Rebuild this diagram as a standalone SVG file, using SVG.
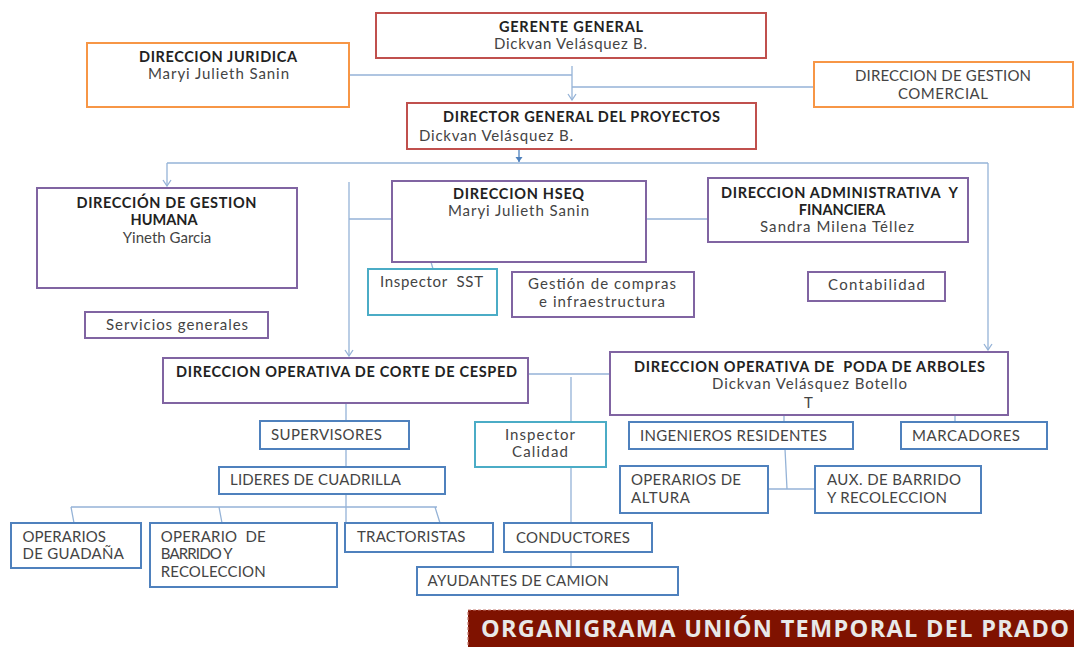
<svg xmlns="http://www.w3.org/2000/svg" width="1074" height="647" viewBox="0 0 1074 647">
<defs>
<style>
.b{fill:#fff;stroke-width:2}
.red{stroke:#C0504D}.org{stroke:#F79646}.pur{stroke:#8064A2}.blu{stroke:#4F81BD}.cya{stroke:#4BACC6}
text{font-family:Lato,"Open Sans","Liberation Sans",sans-serif;font-size:15px;fill:#444;white-space:pre}
.h{font-weight:bold;fill:#222;font-size:14.5px}
.c{fill:none;stroke:#95B3D7;stroke-width:1.3}
</style>
<marker id="oa" viewBox="-7 -5 8 10" refX="0" refY="0" markerWidth="8" markerHeight="10" markerUnits="userSpaceOnUse" orient="auto">
<path d="M-6,-4 L0,0 L-6,4" fill="none" stroke="#95B3D7" stroke-width="1.3"/>
</marker>
<marker id="fa" viewBox="-6 -4 7 8" refX="0" refY="0" markerWidth="7" markerHeight="8" markerUnits="userSpaceOnUse" orient="auto">
<path d="M-5,-3.5 L0,0 L-5,3.5 Z" fill="#4F81BD"/>
</marker>
</defs>
<rect width="1074" height="647" fill="#fff"/>
<g id="connectors">
<path class="c" d="M349,75 H572 M813,87 H572"/>
<path class="c" d="M572,66 V100" marker-end="url(#oa)"/>
<path d="M519,149 V162" stroke="#4F81BD" stroke-width="1.3" marker-end="url(#fa)"/>
<path class="c" d="M167,163 H988"/>
<path class="c" d="M167,163 V186" marker-end="url(#oa)"/>
<path class="c" d="M988,163 V350" marker-end="url(#oa)"/>
<path class="c" d="M349,182 V356" marker-end="url(#oa)"/>
<path class="c" d="M349,219 H392 M646,219 H708 M431,262 L433,269"/>
<path class="c" d="M528,374 H610 M571,377 V422 M571,467 V523 M571,552 V567"/>
<path class="c" d="M346,403 V421 M346,449 V467 M346,494 V523"/>
<path class="c" d="M71,507 H437 M71,507 L74,523 M219,507 L222,523 M435,507 L440,523"/>
<path class="c" d="M784,415 V422 M955,403 V422 M785,449 L787,489 M768,489 H815"/>
</g>
<g id="gerente"><rect class="b red" x="376" y="13" width="390" height="45"/>
<text class="h" x="499" y="32" textLength="144">GERENTE GENERAL</text>
<text x="494" y="49" textLength="153">Dickvan Velásquez B.</text></g>
<g id="juridica"><rect class="b org" x="87" y="43" width="262" height="64"/>
<text class="h" x="139" y="62" textLength="158">DIRECCION JURIDICA</text>
<text x="148" y="79" textLength="141">Maryi Julieth Sanin</text></g>
<g id="comercial"><rect class="b org" x="814" y="62" width="259" height="45"/>
<text x="855" y="81" textLength="176">DIRECCION DE GESTION</text>
<text x="898" y="99" textLength="90">COMERCIAL</text></g>
<g id="director"><rect class="b red" x="407" y="103" width="349" height="46"/>
<text class="h" x="443" y="122" textLength="277">DIRECTOR GENERAL DEL PROYECTOS</text>
<text x="419" y="141" textLength="154">Dickvan Velásquez B.</text></g>
<g id="humana"><rect class="b pur" x="37" y="188" width="260" height="100"/>
<text class="h" x="76.5" y="208" textLength="180">DIRECCIÓN DE GESTION</text>
<text class="h" x="164" y="225" text-anchor="middle">HUMANA</text>
<text x="167" y="243" text-anchor="middle">Yineth Garcia</text></g>
<g id="servicios"><rect class="b pur" x="85" y="312" width="183" height="26"/>
<text x="106" y="330" textLength="142">Servicios generales</text></g>
<g id="hseq"><rect class="b pur" x="392" y="181" width="254" height="81"/>
<text class="h" x="453" y="199" textLength="131">DIRECCION HSEQ</text>
<text x="448" y="216" textLength="141">Maryi Julieth Sanin</text></g>
<g id="sst"><rect class="b cya" x="368" y="269" width="129" height="46"/>
<text x="380" y="287" textLength="103">Inspector  SST</text></g>
<g id="compras"><rect class="b pur" x="512" y="272" width="182" height="45"/>
<text x="528" y="289" textLength="148">Gestión de compras</text>
<text x="539" y="307" textLength="126">e infraestructura</text></g>
<g id="admin"><rect class="b pur" x="708" y="178" width="260" height="64"/>
<text class="h" x="721" y="198" textLength="237">DIRECCION ADMINISTRATIVA  Y</text>
<text class="h" x="842" y="215" text-anchor="middle">FINANCIERA</text>
<text x="760" y="232" textLength="154">Sandra Milena Téllez</text></g>
<g id="contabilidad"><rect class="b pur" x="808" y="272" width="137" height="29"/>
<text x="828" y="290" textLength="97">Contabilidad</text></g>
<g id="corte"><rect class="b pur" x="163" y="358" width="365" height="45"/>
<text class="h" x="176" y="377" textLength="341">DIRECCION OPERATIVA DE CORTE DE CESPED</text></g>
<g id="poda"><rect class="b pur" x="610" y="352" width="398" height="63"/>
<text class="h" x="634" y="372" textLength="351">DIRECCION OPERATIVA DE  PODA DE ARBOLES</text>
<text x="712" y="389" textLength="195">Dickvan Velásquez Botello</text>
<text x="804" y="408">T</text></g>
<g id="supervisores"><rect class="b blu" x="260" y="421" width="149" height="28"/>
<text x="271" y="440" textLength="111">SUPERVISORES</text></g>
<g id="lideres"><rect class="b blu" x="219" y="467" width="226" height="27"/>
<text x="230" y="485" textLength="171">LIDERES DE CUADRILLA</text></g>
<g id="calidad"><rect class="b cya" x="475" y="422" width="131" height="45"/>
<text x="505" y="440" textLength="70">Inspector</text>
<text x="512" y="457" textLength="56">Calidad</text></g>
<g id="ingenieros"><rect class="b blu" x="629" y="422" width="224" height="27"/>
<text x="640" y="441" textLength="187">INGENIEROS RESIDENTES</text></g>
<g id="marcadores"><rect class="b blu" x="901" y="422" width="146" height="27"/>
<text x="912" y="441" textLength="108">MARCADORES</text></g>
<g id="altura"><rect class="b blu" x="620" y="466" width="148" height="47"/>
<text x="631" y="485" textLength="110">OPERARIOS DE</text>
<text x="631" y="503" textLength="59">ALTURA</text></g>
<g id="aux"><rect class="b blu" x="815" y="466" width="166" height="47"/>
<text x="827" y="485" textLength="134">AUX. DE BARRIDO</text>
<text x="827" y="503" textLength="120">Y RECOLECCION</text></g>
<g id="guadana"><rect class="b blu" x="11" y="523" width="130" height="45"/>
<text x="22.4" y="542" textLength="83.5">OPERARIOS</text>
<text x="22.4" y="559" textLength="101.6">DE GUADAÑA</text></g>
<g id="barrido"><rect class="b blu" x="150" y="523" width="187" height="64"/>
<text x="160.7" y="542" textLength="105">OPERARIO  DE</text>
<text x="160.7" y="559" textLength="72">BARRIDO Y</text>
<text x="160.7" y="577" textLength="105">RECOLECCION</text></g>
<g id="tractoristas"><rect class="b blu" x="345" y="523" width="148" height="29"/>
<text x="357" y="542" textLength="108.5">TRACTORISTAS</text></g>
<g id="conductores"><rect class="b blu" x="504" y="523" width="148" height="29"/>
<text x="516" y="543" textLength="114">CONDUCTORES</text></g>
<g id="ayudantes"><rect class="b blu" x="417" y="567" width="261" height="28"/>
<text x="427.6" y="586" textLength="181">AYUDANTES DE CAMION</text></g>
<g id="titulo"><rect x="468" y="610" width="620" height="45" fill="#7F1200" stroke="#c77a70" stroke-width="1.2" stroke-dasharray="3 2"/>
<text x="481" y="637" textLength="588" style="font-family:'Open Sans','Liberation Sans',sans-serif;font-size:23.5px;font-weight:bold;fill:#e8e8e8">ORGANIGRAMA UNIÓN TEMPORAL DEL PRADO</text></g>
</svg>
